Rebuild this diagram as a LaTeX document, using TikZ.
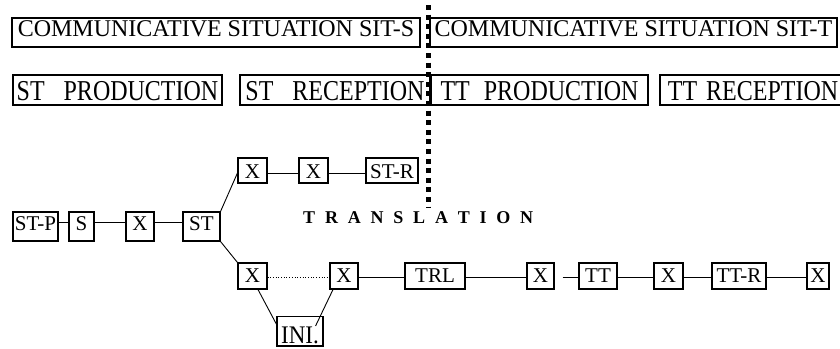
\documentclass[tikz,border=0pt]{standalone}
\usepackage{fontspec}
\usepackage{graphicx}
\setmainfont{Liberation Serif}
\newcommand\gapkern{\kern9.8pt}
\begin{document}
\begin{tikzpicture}[x=1pt,y=-1pt,
  frame/.style={draw, line width=1.1pt, inner sep=0pt, anchor=base},
  sitbox/.style={frame, font=\fontsize{24}{24}\selectfont, text height=18pt, text depth=11pt},
  phasebox/.style={frame, font=\fontsize{24}{24}\selectfont, text height=25pt, text depth=5pt},
  srcbox/.style={frame, font=\fontsize{21}{21}\selectfont, text height=18.7pt, text depth=10.3pt},
  upbox/.style={frame, font=\fontsize{21}{21}\selectfont, text height=20pt, text depth=5pt},
  lowbox/.style={frame, font=\fontsize{21}{21}\selectfont, text height=19.7pt, text depth=6.3pt},
  link/.style={line width=0.9pt}]
\useasboundingbox (0,0) rectangle (840,348);

% communicative situations
\node[sitbox, minimum width=408pt] (sits) at (216,36) {COMMUNICATIVE SITUATION SIT-S};
\node[sitbox, minimum width=407pt] (sitt) at (633.5,36) {COMMUNICATIVE SITUATION SIT-T};

% production / reception phases
\node[phasebox, minimum width=209pt] (stprod) at (117.5,100) {\scalebox{1}[1.2]{ST\hspace{19pt}PRODUCTION}};
\node[phasebox, minimum width=190pt] (strec) at (335,100) {\scalebox{1}[1.2]{ST\hspace{19pt}RECEPTION}};
\node[phasebox, minimum width=217pt] (ttprod) at (539.5,100) {\scalebox{1}[1.2]{TT\hspace{14pt}PRODUCTION}};
\node[phasebox, minimum width=186pt] (ttrec) at (753,100) {\scalebox{1}[1.2]{TT\hspace{9pt}RECEPTION}};

% source chain
\node[srcbox, minimum width=45pt] (stp) at (35.5,230.7) {ST-P};
\node[srcbox, minimum width=25pt] (s) at (81.5,230.7) {S};
\node[srcbox, minimum width=28pt] (xc) at (140,230.7) {X};
\node[srcbox, minimum width=37pt] (st) at (201.5,230.7) {ST};

% upper branch
\node[upbox, minimum width=29pt] (xa) at (252.5,178) {X};
\node[upbox, minimum width=29pt] (xb) at (313.5,178) {X};
\node[upbox, minimum width=52pt] (str) at (392,178) {ST-R};

% lower branch
\node[lowbox, minimum width=29pt] (xl) at (252.5,282.7) {X};
\node[lowbox, minimum width=28pt] (x2) at (344,282.7) {X};
\node[lowbox, minimum width=60pt] (trl) at (435,282.7) {TRL};
\node[lowbox, minimum width=27pt] (x3) at (540.5,282.7) {X};
\node[lowbox, minimum width=38pt] (tt) at (598,282.7) {TT};
\node[lowbox, minimum width=29pt] (x4) at (668.5,282.7) {X};
\node[lowbox, minimum width=54pt] (ttr) at (739,282.7) {TT-R};
\node[lowbox, minimum width=22pt] (x5) at (818,282.7) {X};

\node[frame, font=\fontsize{23}{23}\selectfont, text height=26.5pt, text depth=3pt, minimum width=46pt] (ini) at (300,343) {\scalebox{1}[1.1]{INI.}};

% title of the process
\node[font=\fontsize{18}{18}\selectfont\bfseries, anchor=base west, inner sep=0pt] (trans) at (303,223)
  {T\gapkern R\gapkern A\gapkern N\gapkern S\gapkern L\gapkern A\gapkern T\gapkern I\gapkern O\gapkern N};

% connectors
\draw[link] ([yshift=4pt]stp.east) -- ([yshift=4pt]s.west);
\draw[link] ([yshift=4pt]s.east) -- ([yshift=4pt]xc.west);
\draw[link] ([yshift=4pt]xc.east) -- ([yshift=4pt]st.west);
\draw[link] (st.north east) -- ([yshift=-2.5pt]xa.west);
\draw[link] (st.south east) -- (xl.north west);
\draw[link] ([yshift=-3pt]xa.east) -- ([yshift=-3pt]xb.west);
\draw[link] ([yshift=-3pt]xb.east) -- ([yshift=-3pt]str.west);
\draw[line width=0.7pt, dotted] ([yshift=-1.7pt]xl.east) -- ([yshift=-1.7pt]x2.west);
\draw[link] ([yshift=-1.7pt]x2.east) -- ([yshift=-1.7pt]trl.west);
\draw[link] ([yshift=-1.7pt]trl.east) -- ([yshift=-1.7pt]x3.west);
\draw[link, shorten <=8pt] ([yshift=-1.7pt]x3.east) -- ([yshift=-1.7pt]tt.west);
\draw[link] ([yshift=-1.7pt]tt.east) -- ([yshift=-1.7pt]x4.west);
\draw[link] ([yshift=-1.7pt]x4.east) -- ([yshift=-1.7pt]ttr.west);
\draw[link] ([yshift=-1.7pt]ttr.east) -- ([yshift=-1.7pt]x5.west);
\draw[link] ([xshift=5.5pt]xl.south) -- ([yshift=7pt]ini.west);
\draw[link] ([xshift=-11pt]x2.south) -- ([xshift=-8pt,yshift=-10pt]ini.north east);

% boundary between the two situations
\coordinate (cuttop) at (428.5,5);
\coordinate (cutbot) at (428.5,208);
\draw[line width=5pt, dash pattern=on 5pt off 4.6pt] (cuttop) -- (cutbot);
\end{tikzpicture}
\end{document}
